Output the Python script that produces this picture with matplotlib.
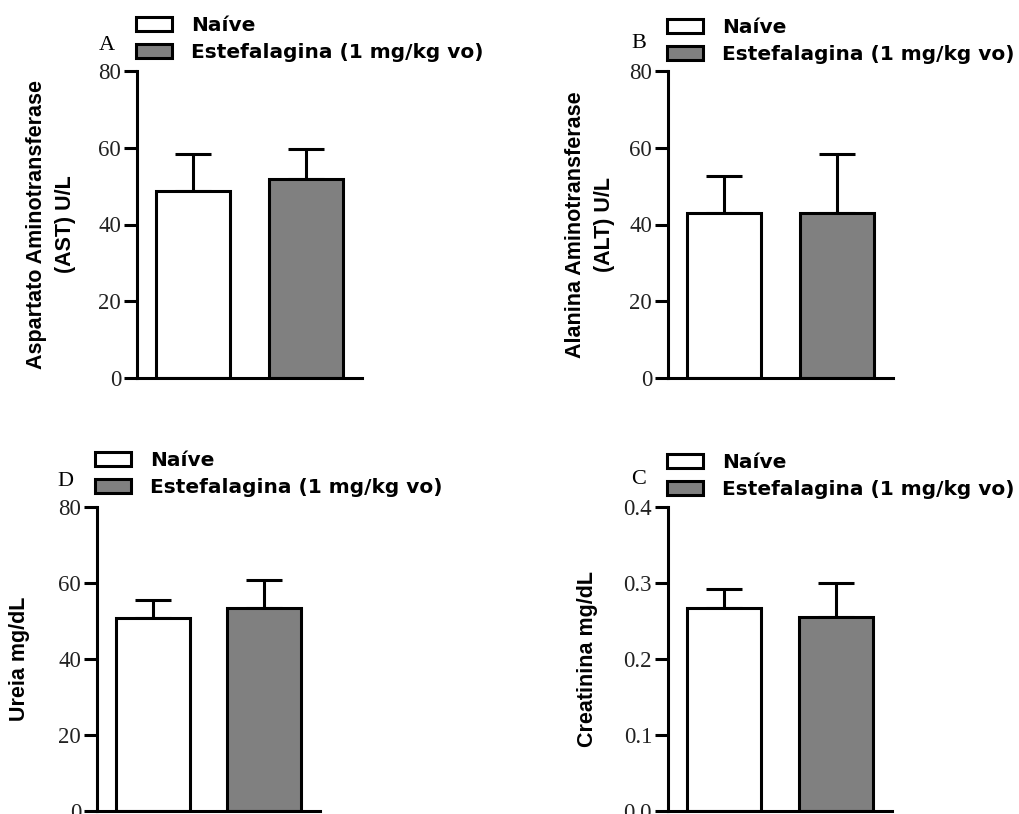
import matplotlib
matplotlib.use("Agg")
import matplotlib.pyplot as plt
from matplotlib.patches import Patch
import numpy as np

# 組別
groups = ["Naíve", "Estefalagina (1 mg/kg vo)"]

# 平均值與上方誤差 (SEM)
ast_mean = [48.7, 51.8]
ast_err = [9.6, 7.8]
alt_mean = [43.0, 43.0]
alt_err = [9.6, 15.5]
ureia_mean = [50.9, 53.5]
ureia_err = [4.6, 7.2]
creat_mean = [0.2675, 0.2557]
creat_err = [0.0242, 0.0447]

SERIF = "Liberation Serif"
SANS = "Liberation Sans"
LEG_FONT = "DejaVu Sans"  # 原圖文字橫向被拉寬, 用較寬的字型比較接近
LW = 2.2
W, H = 1019, 814

fig = plt.figure(figsize=(W / 100, H / 100), dpi=100)


def px_axes(left, right, top, bottom):
    return fig.add_axes([left / W, 1 - bottom / H, (right - left) / W, (bottom - top) / H])


def draw_panel(ax, means, errs, ymax, step, ylabel, letter, letter_xy, leg_xy, labelpad, fmt="%d"):
    x = np.arange(len(means))
    ax.errorbar(x, means, yerr=[np.zeros(len(errs)), errs], fmt="none", ecolor="black",
                elinewidth=LW, capsize=13, capthick=LW, zorder=1)
    ax.bar(x, means, width=0.66, color=["white", "#808080"], edgecolor="black",
           linewidth=LW, zorder=2)
    ax.set_xlim(-0.5, 1.5)
    ax.set_ylim(0, ymax)
    ticks = np.arange(0, ymax + step / 2, step)
    ax.set_yticks(ticks)
    ax.set_yticklabels([fmt % t for t in ticks], fontfamily=SERIF, fontsize=16.5, color="#222222")
    ax.set_xticks([])
    for s in ["top", "right"]:
        ax.spines[s].set_visible(False)
    for s in ["left", "bottom"]:
        ax.spines[s].set_linewidth(LW)
    ax.tick_params(axis="y", direction="out", length=9.5, width=LW, pad=2)
    ax.set_ylabel(ylabel, fontfamily=SANS, fontweight="bold", fontsize=15.5,
                  labelpad=labelpad, linespacing=1.5)
    fig.text(letter_xy[0] / W, 1 - letter_xy[1] / H, letter, fontfamily=SERIF,
             fontsize=16, ha="center", va="center")
    handles = [Patch(facecolor="white", edgecolor="black", linewidth=LW),
               Patch(facecolor="#808080", edgecolor="black", linewidth=LW)]
    fig.legend(handles, groups, loc="lower left",
               bbox_to_anchor=(leg_xy[0] / W, 1 - leg_xy[1] / H),
               frameon=False, borderpad=0, borderaxespad=0,
               handlelength=1.8, handleheight=0.66, handletextpad=0.95,
               labelspacing=0.38, prop={"family": LEG_FONT, "weight": "bold", "size": 14.5})


ax_a = px_axes(137, 362, 71, 378)
draw_panel(ax_a, ast_mean, ast_err, 80, 20,
           "Aspartato Aminotransferase\n(AST) U/L", "A", (107, 46), (136, 62), 16)

ax_b = px_axes(668, 893, 71, 378)
draw_panel(ax_b, alt_mean, alt_err, 80, 20,
           "Alanina Aminotransferase\n(ALT) U/L", "B", (639, 44), (667, 64), 10)

ax_d = px_axes(97, 320, 507, 811)
draw_panel(ax_d, ureia_mean, ureia_err, 80, 20,
           "Ureia mg/dL", "D", (65, 481), (95, 497), 20)

ax_c = px_axes(668, 892, 507, 811)
draw_panel(ax_c, creat_mean, creat_err, 0.4, 0.1,
           "Creatinina mg/dL", "C", (639, 480), (667, 499), 18, fmt="%.1f")

fig.savefig("out.png", dpi=100)
